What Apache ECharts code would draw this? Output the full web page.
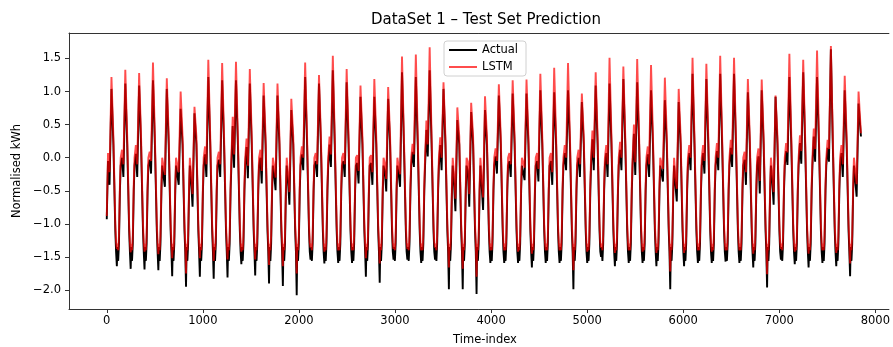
<!DOCTYPE html>
<html>
<head>
<meta charset="utf-8">
<script src="https://cdn.jsdelivr.net/npm/echarts@6/dist/echarts.min.js"></script>
<style>
html,body{margin:0;padding:0;background:#fff;}
#chart{width:893px;height:347px;}
</style>
</head>
<body>
<div id="chart"></div>
<script>
// ---- data ----
const xTicks = [0, 1000, 2000, 3000, 4000, 5000, 6000, 7000, 8000];
const yTicks = [-2.0, -1.5, -1.0, -0.5, 0.0, 0.5, 1.0, 1.5];
const seriesNames = ['Actual', 'LSTM'];

// daily cycle: first evening peak at index 49, then every 144 samples; series ends at 7850
const firstPeak = 49;
const period = 144;
const lastIndex = 7850;

// evening peaks per cycle
const peakActual = [1.04,1.12,1.09,1.17,1.04,0.74,0.67,1.22,1.17,1.17,
  1.12,0.94,0.94,0.72,1.22,1.12,1.32,1.14,0.92,0.92,
  0.89,1.29,1.22,1.32,1.04,0.57,0.69,0.72,0.94,0.97,
  0.97,1.02,0.99,1.02,0.84,1.09,1.12,1.19,1.14,1.02,
  0.87,0.84,1.27,1.19,1.27,1.27,0.99,1.02,0.92,1.22,
  1.29,1.22,1.64,1.02,0.82];
const peakLSTM = [1.22,1.33,1.28,1.44,1.20,1.00,0.77,1.48,1.43,1.45,
  1.34,1.13,1.12,0.89,1.44,1.25,1.54,1.34,1.09,1.19,
  1.07,1.53,1.56,1.67,1.14,0.76,0.83,0.93,1.11,1.17,
  1.18,1.27,1.36,1.43,0.97,1.29,1.51,1.38,1.49,1.40,
  1.21,1.04,1.51,1.42,1.54,1.51,1.19,1.18,0.94,1.57,
  1.48,1.62,1.69,1.24,1.00];
// night troughs after each peak
const troughActual = [-1.64,-1.68,-1.69,-1.70,-1.79,-1.95,-1.80,-1.83,-1.81,-1.61,
  -1.78,-1.90,-1.94,-2.08,-1.54,-1.60,-1.59,-1.59,-1.80,-1.89,
  -1.54,-1.54,-1.59,-1.54,-1.99,-1.99,-2.06,-1.59,-1.59,-1.59,
  -1.66,-1.59,-1.59,-1.99,-1.59,-1.50,-1.64,-1.59,-1.59,-1.64,
  -1.99,-1.64,-1.59,-1.59,-1.57,-1.59,-1.66,-1.96,-1.54,-1.61,
  -1.66,-1.59,-1.64,-1.79];
const troughLSTM = [-1.38,-1.43,-1.42,-1.46,-1.52,-1.75,-1.52,-1.56,-1.54,-1.42,
  -1.54,-1.62,-1.64,-1.75,-1.36,-1.42,-1.40,-1.40,-1.52,-1.60,
  -1.38,-1.38,-1.40,-1.36,-1.66,-1.68,-1.80,-1.40,-1.40,-1.42,
  -1.45,-1.40,-1.40,-1.70,-1.42,-1.36,-1.44,-1.40,-1.42,-1.44,
  -1.72,-1.44,-1.40,-1.42,-1.40,-1.40,-1.45,-1.76,-1.38,-1.42,
  -1.45,-1.40,-1.44,-1.60];
// daytime shoulder (before each peak) and the dip just before the peak
const shoulderActual = [-0.05,0.00,0.06,-0.03,-0.10,-0.10,-0.38,0.05,-0.03,0.48,
  0.16,0.00,-0.26,-0.36,0.05,-0.05,0.20,-0.05,-0.08,-0.08,
  -0.21,-0.26,0.09,0.42,0.19,-0.40,-0.20,-0.44,0.02,-0.05,
  -0.10,-0.05,-0.05,0.07,0.00,0.28,0.07,0.12,0.36,0.05,
  -0.10,-0.42,0.07,0.07,0.10,0.15,-0.03,0.02,-0.36,0.10,
  0.22,0.32,0.15,0.07,-0.14];
const shoulderLSTM = [0.07,0.12,0.19,0.09,0.02,0.02,-0.26,0.17,0.09,0.62,
  0.29,0.12,-0.14,-0.24,0.17,0.07,0.32,0.07,0.04,0.04,
  -0.09,-0.14,0.21,0.56,0.31,-0.26,-0.06,-0.31,0.14,0.07,
  0.02,0.07,0.07,0.19,0.12,0.41,0.19,0.24,0.50,0.17,
  0.02,-0.29,0.19,0.19,0.22,0.27,0.09,0.14,-0.24,0.22,
  0.34,0.44,0.27,0.19,-0.01];
const dipActual = [-0.41,-0.29,-0.29,-0.24,-0.44,-0.41,-0.74,-0.29,-0.29,-0.15,
  -0.31,-0.39,-0.49,-0.71,-0.19,-0.29,-0.14,-0.29,-0.39,-0.41,
  -0.51,-0.44,-0.14,0.02,-0.19,-0.81,-0.74,-0.79,-0.24,-0.29,
  -0.34,-0.36,-0.41,-0.19,-0.29,-0.19,-0.29,-0.19,-0.26,-0.29,
  -0.36,-0.66,-0.19,-0.24,-0.19,-0.14,-0.41,-0.54,-0.71,-0.11,
  -0.09,-0.06,-0.06,-0.29,-0.59];
const dipLSTM = [-0.22,-0.10,-0.10,-0.05,-0.26,-0.22,-0.55,-0.10,-0.10,0.05,
  -0.12,-0.20,-0.30,-0.52,0.00,-0.10,0.05,-0.10,-0.20,-0.22,
  -0.32,-0.25,0.05,0.20,0.00,-0.62,-0.55,-0.60,-0.05,-0.10,
  -0.15,-0.17,-0.22,0.00,-0.10,0.00,-0.10,0.00,-0.07,-0.10,
  -0.17,-0.47,0.00,-0.05,0.00,0.05,-0.22,-0.35,-0.52,0.08,
  0.10,0.13,0.13,-0.10,-0.40];
// levels that recur in every night / morning section
const levelsActual = {start: -0.93, end: 0.32, desc: 0.20, low1: -1.10, low2: -1.42, plat: -1.35, spike2: -1.56, low3: -1.30, rise: -0.50, shStart: -0.12};
const levelsLSTM   = {start: -0.88, end: 0.37, desc: 0.32, low1: -1.00, low2: -1.28, plat: -1.30, spike2: -1.40, low3: -1.18, rise: -0.40, shStart: 0.00};

// ---- build series points from the arrays ----
function build(P, T, S, D, lv) {
  const pts = [[0, lv.start], [firstPeak - 36, S[0]], [firstPeak - 20, D[0]]];
  for (let k = 0; k < P.length; k++) {
    const p = firstPeak + k * period;
    pts.push([p, P[k]]);
    if (k === P.length - 1) { pts.push([lastIndex, lv.end]); break; }
    pts.push([p + 20, lv.desc], [p + 40, lv.low1], [p + 48, lv.low2], [p + 56, T[k]],
             [p + 62, lv.plat], [p + 70, lv.spike2], [p + 78, lv.low3], [p + 88, lv.rise],
             [p + 96, lv.shStart], [p + 110, S[k + 1]], [p + 124, D[k + 1]]);
  }
  return pts;
}
const actualData = build(peakActual, troughActual, shoulderActual, dipActual, levelsActual);
const lstmData = build(peakLSTM, troughLSTM, shoulderLSTM, dipLSTM, levelsLSTM);

const FONT = 'DejaVu Sans';
const chart = echarts.init(document.getElementById('chart'), null, {renderer: 'canvas'});
const fmtY = v => (v < 0 ? '\u2212' : '') + Math.abs(v).toFixed(1);
const axisCol = '#333';
chart.setOption({
  animation: false,
  backgroundColor: '#fff',
  textStyle: {fontFamily: FONT},
  grid: {left: 69, right: 0, top: 33, bottom: 38, show: false},
  xAxis: [{
    type: 'value', min: -393, max: 8141,
    axisLine: {show: true, onZero: false, lineStyle: {color: axisCol, width: 1}},
    axisTick: {show: true, customValues: xTicks, length: 4, lineStyle: {color: axisCol}},
    axisLabel: {customValues: xTicks, color: '#000', fontSize: 11.5, fontFamily: FONT, margin: 6, formatter: v => String(v)},
    splitLine: {show: false}
  }, {
    type: 'value', position: 'top', min: -393, max: 8141,
    axisLine: {show: true, onZero: false, lineStyle: {color: axisCol, width: 1}},
    axisTick: {show: false}, axisLabel: {show: false}, splitLine: {show: false}
  }],
  yAxis: {
    type: 'value', min: -2.287, max: 1.885,
    axisLine: {show: true, onZero: false, lineStyle: {color: axisCol, width: 1}},
    axisTick: {show: true, customValues: yTicks, length: 4, lineStyle: {color: axisCol}},
    axisLabel: {customValues: yTicks, color: '#000', fontSize: 11.5, fontFamily: FONT, margin: 8, formatter: fmtY},
    splitLine: {show: false}
  },
  legend: {
    data: seriesNames, orient: 'vertical', left: 444, top: 41,
    itemWidth: 28, itemHeight: 2, itemGap: 5, icon: 'rect',
    padding: [3, 8, 3, 5],
    backgroundColor: 'rgba(255,255,255,0.8)', borderColor: '#d0d0d0', borderWidth: 1, borderRadius: 3,
    textStyle: {fontSize: 11.5, color: '#000', fontFamily: FONT}
  },
  graphic: [
    {type: 'text', x: 486, y: 20, style: {text: 'DataSet 1 \u2013 Test Set Prediction', font: '15px "DejaVu Sans"', fill: '#000', textAlign: 'center', textVerticalAlign: 'middle'}},
    {type: 'text', x: 485, y: 340, style: {text: 'Time-index', font: '11.5px "DejaVu Sans"', fill: '#000', textAlign: 'center', textVerticalAlign: 'middle'}},
    {type: 'text', x: 17, y: 171, rotation: Math.PI / 2, style: {text: 'Normalised kWh', font: '11.5px "DejaVu Sans"', fill: '#000', textAlign: 'center', textVerticalAlign: 'middle'}}
  ],
  series: [
    {name: seriesNames[0], type: 'line', data: actualData, showSymbol: false, silent: true,
     color: '#000', lineStyle: {color: '#000', width: 1.9}, z: 2},
    {name: seriesNames[1], type: 'line', data: lstmData, showSymbol: false, silent: true,
     color: 'rgba(255,0,0,0.7)', lineStyle: {color: 'rgba(255,0,0,0.7)', width: 1.9}, z: 3}
  ]
});
</script>
</body>
</html>
